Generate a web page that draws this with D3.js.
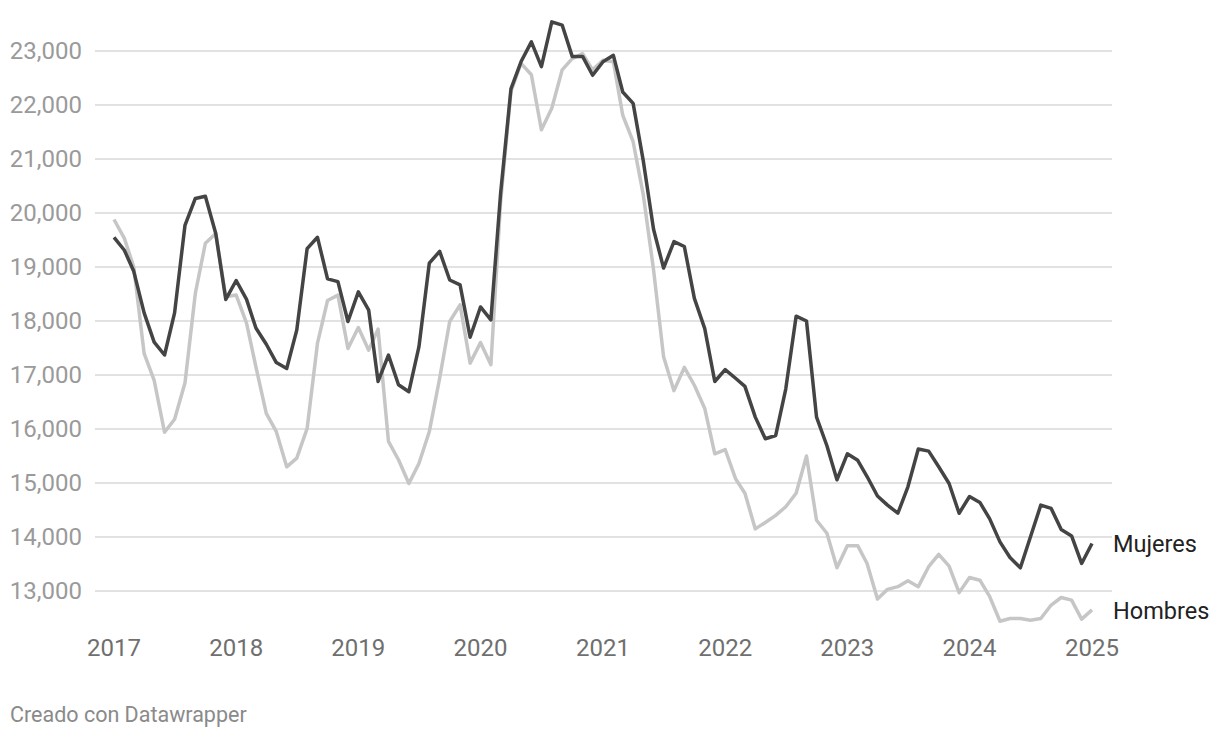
<!DOCTYPE html>
<html><head><meta charset="utf-8">
<script src="https://cdn.jsdelivr.net/npm/d3@7"></script>
<style>body{margin:0;background:#fff;} svg{display:block;font-family:Roboto,sans-serif;}</style>
</head><body><svg id="c" width="1220" height="738"></svg>
<script>
const months = [
"2017-01","2017-02","2017-03","2017-04","2017-05","2017-06","2017-07","2017-08","2017-09","2017-10","2017-11","2017-12",
"2018-01","2018-02","2018-03","2018-04","2018-05","2018-06","2018-07","2018-08","2018-09","2018-10","2018-11","2018-12",
"2019-01","2019-02","2019-03","2019-04","2019-05","2019-06","2019-07","2019-08","2019-09","2019-10","2019-11","2019-12",
"2020-01","2020-02","2020-03","2020-04","2020-05","2020-06","2020-07","2020-08","2020-09","2020-10","2020-11","2020-12",
"2021-01","2021-02","2021-03","2021-04","2021-05","2021-06","2021-07","2021-08","2021-09","2021-10","2021-11","2021-12",
"2022-01","2022-02","2022-03","2022-04","2022-05","2022-06","2022-07","2022-08","2022-09","2022-10","2022-11","2022-12",
"2023-01","2023-02","2023-03","2023-04","2023-05","2023-06","2023-07","2023-08","2023-09","2023-10","2023-11","2023-12",
"2024-01","2024-02","2024-03","2024-04","2024-05","2024-06","2024-07","2024-08","2024-09","2024-10","2024-11","2024-12",
"2025-01"];
const mujeres = [
19550,19310,18920,18150,17610,17370,18150,19770,20270,20310,19620,18400,
18750,18400,17870,17570,17230,17120,17830,19340,19550,18780,18730,17990,
18540,18200,16880,17370,16820,16690,17520,19070,19290,18760,18670,17700,
18260,18020,20360,22300,22800,23170,22710,23540,23480,22900,22900,22550,
22800,22920,22240,22030,20980,19700,18980,19470,19380,18420,17860,16880,
17100,16940,16790,16220,15820,15880,16740,18090,18000,16220,15690,15060,
15540,15420,15120,14760,14590,14440,14930,15630,15590,15300,14990,14440,
14750,14640,14340,13910,13620,13430,14000,14590,14530,14140,14020,13510,
13880];
const hombres = [
19880,19530,19000,17400,16900,15940,16180,16850,18510,19440,19620,18450,
18480,17960,17150,16290,15950,15300,15460,16010,17590,18380,18480,17490,
17880,17460,17850,15770,15430,14990,15360,15950,16940,17990,18300,17220,
17600,17190,20200,22250,22770,22560,21540,21940,22650,22860,22950,22650,
22830,22800,21810,21320,20350,18950,17340,16710,17140,16810,16380,15540,
15620,15080,14810,14150,14270,14400,14560,14810,15500,14310,14070,13430,
13840,13840,13510,12850,13030,13080,13190,13080,13450,13680,13460,12970,
13250,13200,12900,12440,12490,12490,12460,12490,12740,12880,12830,12480,
12650];
const yearTicks = ["2017","2018","2019","2020","2021","2022","2023","2024","2025"];
const yTicks = [13000,14000,15000,16000,17000,18000,19000,20000,21000,22000,23000];
const footer = "Creado con Datawrapper";

const parseM = d3.utcParse("%Y-%m");
const parseY = d3.utcParse("%Y");
const dates = months.map(parseM);
const x = d3.scaleUtc().domain([parseY("2017"), parseY("2025")]).range([114, 1092]);
const y = d3.scaleLinear().domain([13000, 23000]).range([591, 51]);
const fmt = d3.format(",");

const svg = d3.select("#c");

svg.append("g").selectAll("line").data(yTicks).join("line")
  .attr("x1", 95).attr("x2", 1112)
  .attr("y1", d => y(d)).attr("y2", d => y(d))
  .attr("stroke", "#e2e2e2").attr("stroke-width", 2);

svg.append("g").selectAll("text").data(yTicks).join("text")
  .attr("x", 82).attr("y", d => y(d)).attr("dy", "0.35em")
  .attr("text-anchor", "end").attr("font-size", 24).attr("fill", "#9a9a9a")
  .text(d => fmt(d));

svg.append("g").selectAll("text").data(yearTicks).join("text")
  .attr("x", d => x(parseY(d))).attr("y", 656)
  .attr("text-anchor", "middle").attr("font-size", 24).attr("fill", "#6f6f6f")
  .text(d => d);

const line = d3.line().x((d, i) => x(dates[i])).y(d => y(d));
const series = [
  {name: "Hombres", values: hombres, color: "#c6c6c6"},
  {name: "Mujeres", values: mujeres, color: "#444444"}
];
svg.append("g").selectAll("path").data(series).join("path")
  .attr("d", s => line(s.values)).attr("fill", "none")
  .attr("stroke", s => s.color).attr("stroke-width", 3.5)
  .attr("stroke-linejoin", "round");

svg.append("g").selectAll("text").data(series).join("text")
  .attr("x", 1113).attr("y", s => y(s.values[s.values.length - 1]))
  .attr("dy", "0.37em").attr("font-size", 23.5).attr("fill", "#222")
  .text(s => s.name);

svg.append("text").attr("x", 10).attr("y", 722).attr("font-size", 21.5)
  .attr("fill", "#8a8a8a").text(footer);
</script>
</body></html>
